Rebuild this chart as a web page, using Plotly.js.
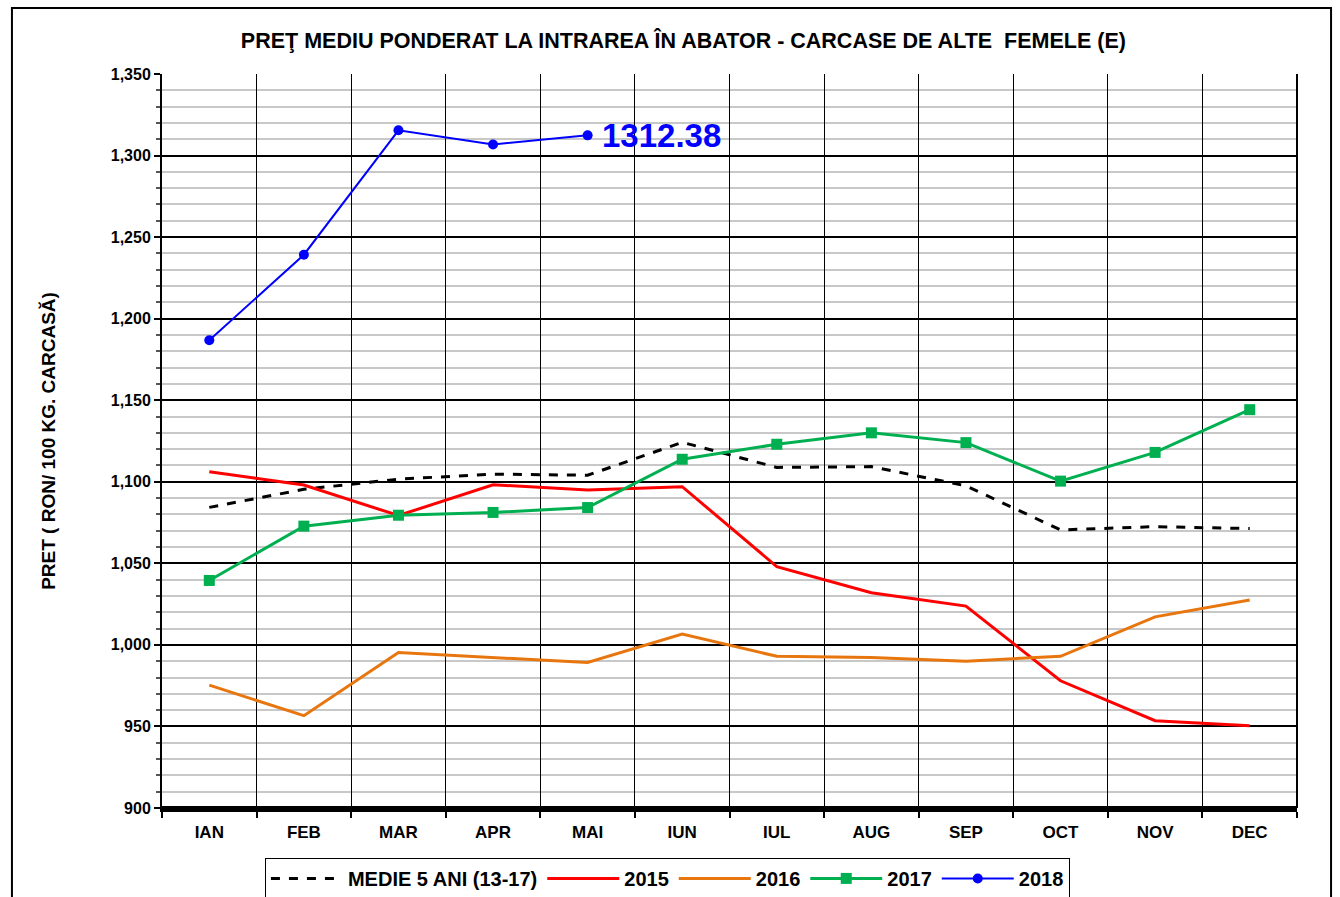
<!DOCTYPE html>
<html>
<head>
<meta charset="utf-8">
<script src="https://cdn.plot.ly/plotly-3.0.1.min.js"></script>
<style>html,body{margin:0;padding:0;background:#fff;}#chart{width:1340px;height:897px;}</style>
</head>
<body>
<div id="chart"></div>
<script>
const months = ["IAN","FEB","MAR","APR","MAI","IUN","IUL","AUG","SEP","OCT","NOV","DEC"];
const medie5ani = [1084.3, 1095.4, 1101.6, 1104.7, 1104.0, 1124.2, 1108.8, 1109.3, 1097.5, 1070.5, 1072.5, 1071.3];
const y2015 = [1106.2, 1098.0, 1079.3, 1098.2, 1095.0, 1097.0, 1048.0, 1032.0, 1023.8, 978.0, 953.5, 950.5];
const y2016 = [975.3, 956.6, 995.3, 992.4, 989.2, 1006.6, 993.0, 992.2, 990.0, 993.0, 1017.2, 1027.5];
const y2017 = [1039.5, 1072.8, 1079.5, 1081.2, 1084.2, 1113.8, 1123.0, 1130.0, 1124.0, 1100.4, 1118.0, 1144.2];
const y2018 = [1186.8, 1239.2, 1315.5, 1306.8, 1312.38];
const seriesNames = ["MEDIE 5 ANI (13-17)", "2015", "2016", "2017", "2018"];
const titleText = "PREŢ MEDIU PONDERAT LA INTRAREA ÎN ABATOR - CARCASE DE ALTE  FEMELE (E)";
const yTitle = "PRET ( RON/ 100 KG. CARCASĂ)";
const lastLabel = "1312.38";

const F = "Liberation Sans, Arial, sans-serif";

const traces = [
  {x: months, y: medie5ani, name: seriesNames[0], mode: "lines",
   line: {color: "#000000", width: 3, dash: "dash"}},
  {x: months, y: y2015, name: seriesNames[1], mode: "lines",
   line: {color: "#ff0000", width: 3}},
  {x: months, y: y2016, name: seriesNames[2], mode: "lines",
   line: {color: "#e8760f", width: 3}},
  {x: months, y: y2017, name: seriesNames[3], mode: "lines+markers",
   line: {color: "#00b050", width: 3}, marker: {symbol: "square", size: 11, color: "#00b050"}},
  {x: months.slice(0, y2018.length), y: y2018, name: seriesNames[4], mode: "lines+markers",
   line: {color: "#0000ff", width: 2}, marker: {symbol: "circle", size: 10, color: "#0000ff"}}
];

const layout = {
  width: 1340, height: 897,
  margin: {l: 162, r: 43, t: 74, b: 89, autoexpand: false},
  paper_bgcolor: "#ffffff", plot_bgcolor: "#ffffff",
  font: {family: F, color: "#000000"},
  title: {text: "<b>" + titleText + "</b>", font: {family: F, size: 21.5, color: "#000"},
          x: 0.51, xanchor: "center", y: 0.955, yanchor: "middle", automargin: false},
  showlegend: true,
  legend: {orientation: "h", x: 0.0907, xanchor: "left", y: -0.068, yanchor: "top",
           bordercolor: "#000", borderwidth: 1, bgcolor: "#fff", itemwidth: 72,
           font: {family: F, size: 20, color: "#000", weight: "bold"}, traceorder: "normal"},
  xaxis: {type: "category", range: [-0.5, 11.5], autorange: false, tickson: "boundaries",
          showgrid: true, gridcolor: "#000", gridwidth: 1,
          ticks: "outside", ticklen: 6, tickwidth: 2, tickcolor: "#000", ticklabelstandoff: 6,
          showline: true, linecolor: "#000", linewidth: 4, mirror: false, automargin: false,
          tickfont: {family: F, size: 17, color: "#000", weight: "bold"}, fixedrange: true, zeroline: false},
  yaxis: {range: [900, 1350], autorange: false, dtick: 50, tickformat: ",d", showgrid: true, gridcolor: "#000", gridwidth: 2,
          ticks: "outside", ticklen: 6, tickwidth: 2, tickcolor: "#000",
          showline: true, linecolor: "#000", linewidth: 2, mirror: false, automargin: false,
          minor: {dtick: 10, showgrid: true, gridcolor: "#c8c8c8", gridwidth: 2, ticks: "outside", ticklen: 4, tickcolor: "#555"},
          tickfont: {family: F, size: 16, color: "#000", weight: "bold"},
          title: {text: "<b>" + yTitle + "</b>", font: {family: F, size: 19, color: "#000"}, standoff: 50},
          zeroline: false, fixedrange: true},
  shapes: [
    {type: "line", xref: "paper", yref: "paper", x0: 1, x1: 1, y0: 0, y1: 1, line: {color: "#000", width: 2}},
    {type: "line", xref: "paper", yref: "paper", x0: 0, x1: 1, y0: 0, y1: 0, line: {color: "#000", width: 4}},
    {type: "rect", xref: "paper", yref: "paper", x0: -0.1322, x1: 1.0300, y0: -0.2, y1: 1.090,
     line: {color: "#000", width: 2}, fillcolor: "rgba(0,0,0,0)", layer: "below"}
  ],
  annotations: [
    {x: months[y2018.length - 1], y: y2018[y2018.length - 1], xref: "x", yref: "y",
     text: "<b>" + lastLabel + "</b>", showarrow: false, xanchor: "left", yanchor: "middle",
     xshift: 12, font: {family: F, size: 33, color: "#0000ff"}}
  ]
};

Plotly.newPlot("chart", traces, layout, {displayModeBar: false, staticPlot: true});
</script>
</body>
</html>
